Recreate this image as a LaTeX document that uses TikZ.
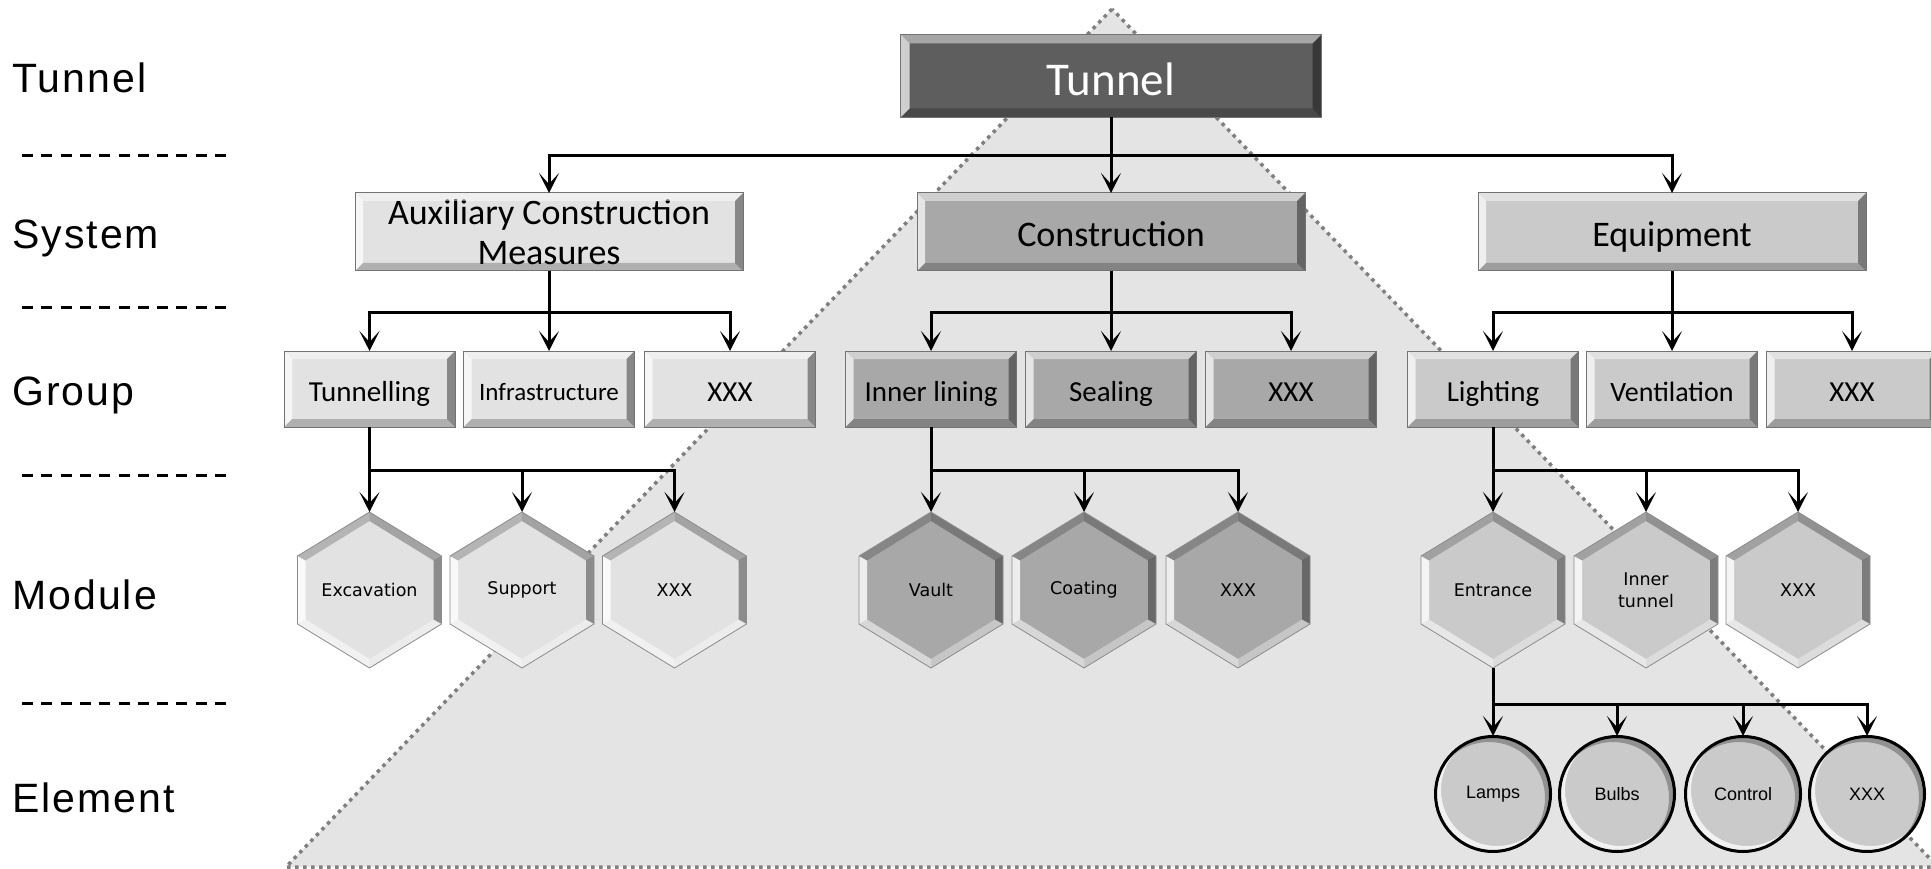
\documentclass[tikz,border=0pt]{standalone}
\usepackage{fontspec}
\setmainfont{Carlito}
\newfontfamily\levelfont[LetterSpace=5]{Liberation Sans}
\newfontfamily\hexfont{DejaVu Sans}
\newfontfamily\circfont{Liberation Sans}
\usetikzlibrary{arrows.meta,calc}

\definecolor{trifill}{HTML}{E4E4E4}
\definecolor{triline}{HTML}{7F7F7F}
\definecolor{headfill}{HTML}{5E5E5E}
\definecolor{lightfill}{HTML}{E2E2E2}
\definecolor{midfill}{HTML}{A8A8A8}
\definecolor{palefill}{HTML}{CACACA}

\tikzset{
  bx/.style={rectangle, outer sep=0pt, inner sep=0pt, draw=black!55, line width=1pt, align=center},
  headbox/.style={bx, fill=headfill, minimum width=421pt, minimum height=83pt, text=white,
    text height=39pt, text depth=0pt, font=\fontsize{47pt}{50pt}\selectfont},
  sysbox/.style={bx, minimum width=388pt, minimum height=78pt, font=\fontsize{36pt}{40pt}\selectfont},
  oneline/.style={text height=#1, text depth=0pt},
  grpbox/.style={bx, minimum width=171pt, minimum height=76pt, oneline=25pt,
    font=\fontsize{29pt}{30pt}\selectfont},
  hexlabel/.style={circle, minimum size=156pt, inner sep=0pt, outer sep=0pt, align=center,
    font=\hexfont\fontsize{17.5pt}{22pt}\selectfont},
  elem/.style={circle, minimum size=116pt, inner sep=0pt, outer sep=0pt, draw=black, line width=2pt,
    fill=palefill},
  lvl/.style={anchor=base west, inner sep=0pt, font=\levelfont\fontsize{41pt}{41pt}\selectfont},
  sepline/.style={line width=3pt, dash pattern=on 11pt off 8.3pt},
  conn/.style={line width=3pt, draw=black},
  arr/.style={conn, -{Stealth[length=20pt,width=20pt,inset=11pt]}},
  triedge/.style={draw=triline, line width=3.5pt, dash pattern=on 3.5pt off 4.5pt},
}

% raised bevel on a rectangular node: #1 node, #2 bevel width
\newcommand\boxbevel[2]{%
  \fill[white,opacity=.45] (#1.north west) -- (#1.north east) -- ([shift={(-#2,-#2)}]#1.north east) -- ([shift={(#2,-#2)}]#1.north west) -- cycle;
  \fill[white,opacity=.7] (#1.north west) -- ([shift={(#2,-#2)}]#1.north west) -- ([shift={(#2,#2)}]#1.south west) -- (#1.south west) -- cycle;
  \fill[black,opacity=.22] (#1.south west) -- ([shift={(#2,#2)}]#1.south west) -- ([shift={(-#2,#2)}]#1.south east) -- (#1.south east) -- cycle;
  \fill[black,opacity=.4] (#1.south east) -- ([shift={(-#2,#2)}]#1.south east) -- ([shift={(-#2,-#2)}]#1.north east) -- (#1.north east) -- cycle;
  \draw[black!55,line width=1pt] (#1.north west) rectangle (#1.south east);
}

% bevelled hexagon with a named label node: #1 name, #2 x, #3 y, #4 fill, #5 text
\newcommand\hexmodule[5]{%
  \begin{scope}[shift={(#2,#3)}]
    \fill[#4] (0pt,78pt) -- (72pt,34pt) -- (72pt,-34pt) -- (0pt,-78pt) -- (-72pt,-34pt) -- (-72pt,34pt) -- cycle;
    \fill[black,opacity=.28] (0pt,78pt) -- (72pt,34pt) -- (64pt,29.5pt) -- (0pt,69pt) -- cycle;
    \fill[black,opacity=.38] (72pt,34pt) -- (72pt,-34pt) -- (64pt,-29.5pt) -- (64pt,29.5pt) -- cycle;
    \fill[white,opacity=.35] (72pt,-34pt) -- (0pt,-78pt) -- (0pt,-69pt) -- (64pt,-29.5pt) -- cycle;
    \fill[white,opacity=.55] (0pt,-78pt) -- (-72pt,-34pt) -- (-64pt,-29.5pt) -- (0pt,-69pt) -- cycle;
    \fill[white,opacity=.8] (-72pt,-34pt) -- (-72pt,34pt) -- (-64pt,29.5pt) -- (-64pt,-29.5pt) -- cycle;
    \fill[black,opacity=.2] (-72pt,34pt) -- (0pt,78pt) -- (0pt,69pt) -- (-64pt,29.5pt) -- cycle;
    \draw[black!45,line width=.8pt] (0pt,78pt) -- (72pt,34pt) -- (72pt,-34pt) -- (0pt,-78pt) -- (-72pt,-34pt) -- (-72pt,34pt) -- cycle;
  \end{scope}
  \node[hexlabel] (#1) at (#2,#3) {#5};
}

% shaded element disc: #1 name, #2 x, #3 y, #4 text
\newcommand\elemdisc[4]{%
  \node[elem] (#1) at (#2,#3) {};
  \begin{scope}
    \clip (#1.center) circle[radius=57pt];
    \fill[white,opacity=.75,even odd rule] (#1.center) circle[radius=57pt] ([shift={(4pt,4pt)}]#1.center) circle[radius=56pt];
    \fill[black,opacity=.28,even odd rule] (#1.center) circle[radius=57pt] ([shift={(-4pt,-4pt)}]#1.center) circle[radius=56pt];
  \end{scope}
  \draw[black,line width=2pt] (#1.center) circle[radius=57pt];
  \node[font=\circfont\fontsize{18pt}{20pt}\selectfont] at (#1.center) {#4};
}

\begin{document}
\begin{tikzpicture}[x=1pt,y=-1pt]
\useasboundingbox (0,0) rectangle (1931,869);
\clip (0,0) rectangle (1931,869);

% background pyramid
\coordinate (apex) at (1112,9);
\coordinate (baseL) at (286,867);
\coordinate (baseR) at (1938,867);
\fill[trifill] (apex) -- (baseL) -- (baseR) -- cycle;
\draw[triedge] (apex) -- (baseL) -- (baseR) -- cycle;

% level names and separators
\node[lvl] (lTunnel) at (12,93) {Tunnel};
\node[lvl] (lSystem) at (12,249) {System};
\node[lvl] (lGroup) at (12,405) {Group};
\node[lvl] (lModule) at (12,609) {Module};
\node[lvl] (lElement) at (12,812) {Element};
\foreach \yy [count=\i] in {156,307,475,703}{
  \coordinate (sa\i) at (22,\yy);
  \coordinate (sb\i) at (232,\yy);
  \draw[sepline] (sa\i) -- (sb\i);
}

% tunnel
\node[headbox] (T) at (1111,76) {Tunnel};
\boxbevel{T}{9pt}

% systems
\node[sysbox, fill=lightfill] (S1) at (549,232) {Auxiliary Construction\\Measures};
\node[sysbox, fill=midfill, oneline=30pt] (S2) at (1111,232) {Construction};
\node[sysbox, fill=palefill, oneline=30pt] (S3) at (1672,232) {Equipment};
\foreach \n in {S1,S2,S3}{\boxbevel{\n}{8pt}}

% groups
\node[grpbox, fill=lightfill] (G11) at (369.5,389) {Tunnelling};
\node[grpbox, fill=lightfill, oneline=22pt, font=\fontsize{25pt}{27pt}\selectfont] (G12) at (549,389) {Infrastructure};
\node[grpbox, fill=lightfill] (G13) at (730,389) {XXX};
\node[grpbox, fill=midfill] (G21) at (931,389) {Inner lining};
\node[grpbox, fill=midfill] (G22) at (1111,389) {Sealing};
\node[grpbox, fill=midfill] (G23) at (1291,389) {XXX};
\node[grpbox, fill=palefill] (G31) at (1493,389) {Lighting};
\node[grpbox, fill=palefill, oneline=24pt, font=\fontsize{28pt}{30pt}\selectfont] (G32) at (1672,389) {Ventilation};
\node[grpbox, fill=palefill] (G33) at (1852,389) {XXX};
\foreach \n in {G11,G12,G13,G21,G22,G23,G31,G32,G33}{\boxbevel{\n}{8pt}}

% modules
\hexmodule{M11}{369.5}{590}{lightfill}{Excavation}
\hexmodule{M12}{522}{590}{lightfill}{Support}
\hexmodule{M13}{674.5}{590}{lightfill}{XXX}
\hexmodule{M21}{931}{590}{midfill}{Vault}
\hexmodule{M22}{1084}{590}{midfill}{Coating}
\hexmodule{M23}{1238}{590}{midfill}{XXX}
\hexmodule{M31}{1493}{590}{palefill}{Entrance}
\hexmodule{M32}{1646}{590}{palefill}{Inner\\tunnel}
\hexmodule{M33}{1798}{590}{palefill}{XXX}

% elements
\elemdisc{E1}{1493}{794}{Lamps}
\elemdisc{E2}{1617}{794}{Bulbs}
\elemdisc{E3}{1743}{794}{Control}
\elemdisc{E4}{1867}{794}{XXX}

% connectors: tunnel to systems
\coordinate (jT) at (1111,156);
\draw[conn] (T.south) -- (jT);
\draw[arr] (jT) -| (S1.north);
\draw[arr] (jT) -- (S2.north);
\draw[arr] (jT) -| (S3.north);

% systems to groups
\coordinate (jS1) at (549,312);
\coordinate (jS2) at (1111,312);
\coordinate (jS3) at (1672,312);
\draw[conn] (S1.south) -- (jS1);
\draw[conn] (S2.south) -- (jS2);
\draw[conn] (S3.south) -- (jS3);
\draw[arr] (jS1) -| (G11.north);
\draw[arr] (jS1) -- (G12.north);
\draw[arr] (jS1) -| (G13.north);
\draw[arr] (jS2) -| (G21.north);
\draw[arr] (jS2) -- (G22.north);
\draw[arr] (jS2) -| (G23.north);
\draw[arr] (jS3) -| (G31.north);
\draw[arr] (jS3) -- (G32.north);
\draw[arr] (jS3) -| (G33.north);

% groups to modules
\coordinate (jG1) at (369.5,470);
\coordinate (jG2) at (931,470);
\coordinate (jG3) at (1493,470);
\draw[arr] (G11.south) -- (M11.north);
\draw[arr] (jG1) -| (M12.north);
\draw[arr] (jG1) -| (M13.north);
\draw[arr] (G21.south) -- (M21.north);
\draw[arr] (jG2) -| (M22.north);
\draw[arr] (jG2) -| (M23.north);
\draw[arr] (G31.south) -- (M31.north);
\draw[arr] (jG3) -| (M32.north);
\draw[arr] (jG3) -| (M33.north);

% entrance module to elements
\coordinate (jM) at (1493,704);
\draw[arr] (M31.south) -- (E1.north);
\draw[arr] (jM) -| (E2.north);
\draw[arr] (jM) -| (E3.north);
\draw[arr] (jM) -| (E4.north);
\end{tikzpicture}
\end{document}
